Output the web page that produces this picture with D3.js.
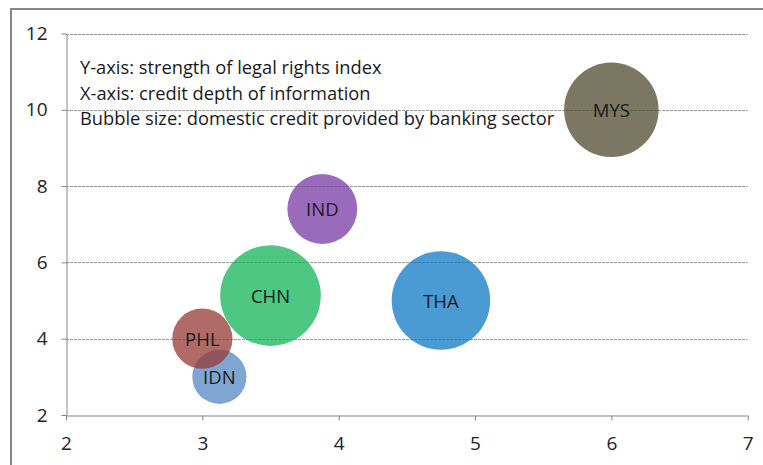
<!DOCTYPE html>
<html>
<head>
<meta charset="utf-8">
<script src="https://cdn.jsdelivr.net/npm/d3@7"></script>
<style>
    body { margin: 0; background: #fff; }
    svg { display: block; font-family: "Open Sans", sans-serif; }
</style>
</head>
<body>
<svg id="chart" width="763" height="465"></svg>
<script>
// countries, drawn in this order (PHL sits over IDN)
const countries = ["MYS", "THA", "CHN", "IND", "IDN", "PHL"];
// x: credit depth of information
const creditDepth = [6, 4.75, 3.5, 3.88, 3.125, 3];
// y: strength of legal rights index
const legalRights = [10, 5, 5.13, 7.4, 3, 4];
// bubble size: domestic credit provided by banking sector (% of GDP)
const domesticCredit = [128, 139, 145, 70, 42, 52];
const bubbleColors = ["#4f4a2e", "#0e7ac6", "#12b458", "#7a3aa4", "#5487c4", "#963a36"];

const xTicks = [2, 3, 4, 5, 6, 7];
const yTicks = [2, 4, 6, 8, 10, 12];
const notes = [
    "Y-axis: strength of legal rights index",
    "X-axis: credit depth of information",
    "Bubble size: domestic credit provided by banking sector"
];

const svg = d3.select("#chart");

const x = d3.scaleLinear().domain([2, 7]).range([66, 747.7]);
const y = d3.scaleLinear().domain([2, 12]).range([415, 33.5]);
const r = d3.scaleSqrt().domain([0, d3.max(domesticCredit)]).range([0, 50.3]);

// outer chart frame (runs off the right and bottom edge)
svg.append("rect")
    .attr("x", 11)
    .attr("y", 9)
    .attr("width", 800)
    .attr("height", 500)
    .attr("fill", "none")
    .attr("stroke", "#868686")
    .attr("stroke-width", 2);

// dashed horizontal gridlines
svg.append("g")
    .selectAll("line")
    .data(yTicks.filter(d => d > 2))
    .join("line")
    .attr("x1", x(2))
    .attr("x2", x(7))
    .attr("y1", d => Math.round(y(d)) + 0.5)
    .attr("y2", d => Math.round(y(d)) + 0.5)
    .attr("stroke", "#9a9a9a")
    .attr("stroke-dasharray", "3,1");

// axes
const xAxis = svg.append("g")
    .attr("transform", `translate(0,${Math.round(y(2)) + 0.5})`)
    .call(d3.axisBottom(x).tickValues(xTicks).tickFormat(d3.format("d"))
        .tickSize(5).tickSizeOuter(0).tickPadding(16));

const yAxis = svg.append("g")
    .attr("transform", `translate(${Math.round(x(2)) + 0.5},0)`)
    .call(d3.axisLeft(y).tickValues(yTicks).tickFormat(d3.format("d"))
        .tickSize(5).tickSizeOuter(0).tickPadding(14));

[xAxis, yAxis].forEach(ax => {
    ax.select(".domain").attr("stroke", "#868686");
    ax.selectAll(".tick line").attr("stroke", "#868686");
    ax.selectAll(".tick text")
        .attr("fill", "#222")
        .style("font-size", "19px")
        .style("font-family", "'Open Sans', sans-serif");
});

// bubbles
const bubbles = svg.append("g")
    .selectAll("g")
    .data(countries)
    .join("g")
    .attr("transform", (d, i) => `translate(${x(creditDepth[i])},${y(legalRights[i])})`);

bubbles.append("circle")
    .attr("r", (d, i) => r(domesticCredit[i]))
    .attr("fill", (d, i) => bubbleColors[i])
    .attr("fill-opacity", 0.75);

bubbles.append("text")
    .attr("text-anchor", "middle")
    .attr("dy", "0.38em")
    .attr("fill", "#1a1a1a")
    .style("font-size", "18.5px")
    .text(d => d);

// annotation text block
svg.append("g")
    .selectAll("text")
    .data(notes)
    .join("text")
    .attr("x", 80)
    .attr("y", (d, i) => 74 + i * 25.5)
    .attr("fill", "#1a1a1a")
    .style("font-size", "18.3px")
    .text(d => d);
</script>
</body>
</html>
